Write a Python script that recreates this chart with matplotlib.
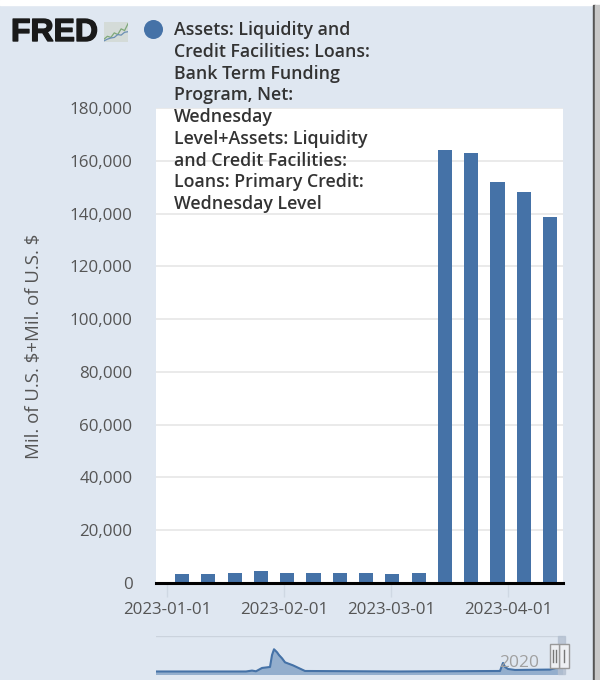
import matplotlib
matplotlib.use('Agg')
import matplotlib.pyplot as plt
import matplotlib.dates as mdates
import matplotlib.patheffects as pe
from matplotlib.lines import Line2D
from matplotlib.patches import Rectangle
from datetime import date

plt.rcParams['font.family'] = ['Open Sans', 'DejaVu Sans']

# weekly values, millions of dollars
bar_dates = [date(2023, 1, 4), date(2023, 1, 11), date(2023, 1, 18), date(2023, 1, 25),
             date(2023, 2, 1), date(2023, 2, 8), date(2023, 2, 15), date(2023, 2, 22),
             date(2023, 3, 1), date(2023, 3, 8), date(2023, 3, 15), date(2023, 3, 22),
             date(2023, 3, 29), date(2023, 4, 5), date(2023, 4, 12)]
bar_values = [3300, 3300, 3900, 4600, 3900, 3900, 3900, 3900, 3300, 3900,
              164200, 163000, 152000, 148000, 138800]

y_ticks = [0, 20000, 40000, 60000, 80000, 100000, 120000, 140000, 160000, 180000]
x_ticks = [date(2023, 1, 1), date(2023, 2, 1), date(2023, 3, 1), date(2023, 4, 1)]
# the original ticks sit a little left of the true date
x_tick_shift = [-0.9, -0.9, -0.3, -0.2]

# navigator overview, year vs millions
nav_years = [2002.9, 2007.4, 2007.7, 2007.9, 2008.2, 2008.6, 2008.7, 2008.8, 2008.95, 2009.05,
             2009.2, 2009.35, 2009.75, 2010.35, 2015.0, 2020.1, 2020.25, 2020.35, 2020.5,
             2020.85, 2022.6, 2022.9, 2023.2]
nav_values = [1500, 1500, 6000, 2500, 19000, 24000, 83000, 112000, 97000, 83000,
              67000, 47000, 32000, 4000, 1500, 4000, 44000, 24000, 14000,
              9000, 11000, 19000, 19000]

legend_lines = ['Assets: Liquidity and', 'Credit Facilities: Loans:', 'Bank Term Funding',
                'Program, Net:', 'Wednesday', 'Level+Assets: Liquidity',
                'and Credit Facilities:', 'Loans: Primary Credit:', 'Wednesday Level']

# logo icon lines
icon_x = [0, 1, 2, 3, 4, 5, 6, 7]
icon_green = [1.0, 2.0, 1.6, 3.2, 2.6, 4.6, 4.0, 6.4]
icon_blue = [0.4, 1.0, 1.4, 1.6, 2.6, 2.4, 3.4, 3.6]

W, H = 600, 680
bg = '#dfe7f1'
blue = '#4572a7'
txt = '#555555'


def box(l, t, r, b):
    return [l / W, 1 - b / H, (r - l) / W, (b - t) / H]


fig = plt.figure(figsize=(W / 100, H / 100), dpi=100, facecolor=bg)

# main chart
ax = fig.add_axes(box(156, 108, 563, 583))
xs = mdates.date2num(bar_dates)
ax.bar(xs, bar_values, width=3.75, color=blue, zorder=3)
ax.set_ylim(0, 180000)
ax.set_xlim(mdates.date2num(date(2023, 1, 1)) - 3.95, mdates.date2num(date(2023, 1, 1)) + 104.45)
ax.set_yticks(y_ticks)
ax.set_yticklabels([f'{v:,}' for v in y_ticks])
ax.set_xticks([mdates.date2num(d) + s for d, s in zip(x_ticks, x_tick_shift)])
ax.set_xticklabels([d.isoformat() for d in x_ticks])
ax.tick_params(axis='y', length=0, pad=17, labelsize=12.2, labelcolor=txt)
ax.tick_params(axis='x', length=10, width=1, color='#cfd8e3', pad=3.5, labelsize=12.2, labelcolor=txt)
ax.grid(True, axis='y', color='#e6e6e6', linewidth=1.2, zorder=0)
for s in ['top', 'right', 'left']:
    ax.spines[s].set_visible(False)
ax.spines['bottom'].set_color('black')
ax.spines['bottom'].set_linewidth(2.2)
ax.spines['bottom'].set_zorder(5)
ax.set_axisbelow(True)
ax.set_ylabel(r'Mil. of U.S. \$+Mil. of U.S. \$', fontsize=13.4, color=txt)
ax.yaxis.set_label_coords((43 - 156) / 407, 0.499)

# navigator
nav = fig.add_axes(box(156, 636, 563, 674))
nav.patch.set_alpha(0)
nav.fill_between(nav_years, nav_values, -11000, color='#93aecd', zorder=2)
nav.plot(nav_years, nav_values, color=blue, linewidth=1.5, zorder=3)
nav.set_xlim(2002.9, 2023.25)
nav.set_ylim(-11000, 178000)
nav.axhline(178000, color='#cbd3dd', linewidth=1)
nav.axis('off')
nav.text(2020.05, 45000, '2020', fontsize=12.5, color='#a0a0a0', va='center', ha='left', zorder=4)

# range handles on the navigator
nav.add_patch(Rectangle((2023.0, -11000), 0.35, 189000, color='#b4c0d0', alpha=0.8, clip_on=False, zorder=4))
for x0, wd, bars in [(2023.05, 0.5, [2023.3]), (2022.6, 0.45, [2022.76, 2022.9])]:
    nav.add_patch(Rectangle((x0, 19000), wd, 119000, facecolor='#eef0f3', edgecolor='#999999',
                            linewidth=1, clip_on=False, zorder=6))
    for b in bars:
        nav.plot([b, b], [48000, 108000], color='#777777', linewidth=1, clip_on=False, zorder=7)

# legend sits on top of the plot
fig.text(174 / W, 1 - 21 / H, '\n'.join(legend_lines), fontsize=12.8, fontweight='semibold',
         color='#333333', va='top', ha='left', linespacing=1.268, zorder=10)
fig.add_artist(Line2D([153 / W], [1 - 29 / H], marker='o', markersize=13.7, color=blue,
                      markeredgewidth=0, transform=fig.transFigure))

# logo
fig.text(11 / W, 1 - 33 / H, 'FRED', fontsize=23, fontweight='bold', family='Liberation Sans',
         color='#1a1a1a', va='center', ha='left',
         path_effects=[pe.withStroke(linewidth=1, foreground='#1a1a1a')])
icon = fig.add_axes(box(104, 22, 128, 42))
icon.set_facecolor('#d4dbd8')
icon.plot(icon_x, icon_green, color='#7fa97a', linewidth=0.9)
icon.plot(icon_x, icon_blue, color='#6a8fb5', linewidth=0.9)
icon.set_xlim(0, 7)
icon.set_ylim(0, 7)
icon.set_xticks([])
icon.set_yticks([])
for s in icon.spines.values():
    s.set_visible(False)

# top white strip, window edge on the right
fig.add_artist(Rectangle((0, 1 - 5 / H), 1, 5 / H, color='white', transform=fig.transFigure))
fig.add_artist(Rectangle((593 / W, 0), 2 / W, 1 - 5 / H, color='#555555', transform=fig.transFigure))
fig.add_artist(Rectangle((595 / W, 0), 5 / W, 1 - 5 / H, color='#c8c8c8', transform=fig.transFigure))

fig.savefig('out.png', dpi=100, facecolor=fig.get_facecolor())
